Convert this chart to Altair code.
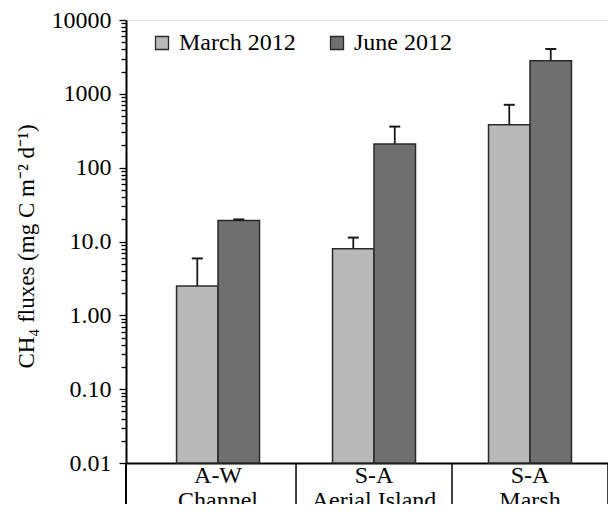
import altair as alt
import pandas as pd

sites = ["A-W\nChannel", "S-A\nAerial Island", "S-A\nMarsh"]
months = ["March 2012", "June 2012"]
march_vals = [2.5, 8.0, 380]
march_err = [5.9, 11.3, 710]
june_vals = [19.3, 210, 2800]
june_err = [19.9, 360, 4050]
y_ticks = [0.01, 0.1, 1, 10, 100, 1000, 10000]
y_labels = ["0.01", "0.10", "1.00", "10.0", "100", "1000", "10000"]
minor_mult = [2, 3, 4, 5, 6, 7, 8, 9]
colors = ["#b9b9b9", "#6f6f6f"]

rows = []
for i, s in enumerate(sites):
    rows.append({"site": s, "month": months[0], "value": march_vals[i], "err": march_err[i], "base": 0.01})
    rows.append({"site": s, "month": months[1], "value": june_vals[i], "err": june_err[i], "base": 0.01})
df = pd.DataFrame(rows)

all_ticks = list(y_ticks)
for d in y_ticks[:-1]:
    for m in minor_mult:
        all_ticks.append(round(d * m, 6))
all_ticks = sorted(all_ticks)
site_df = pd.DataFrame({"site": sites})

W, H = 482, 443
FONT = "Liberation Serif"
label_map = "{" + ",".join(f"'{t}':'{l}'" for t, l in zip([str(x) for x in y_ticks], y_labels)) + "}"
major_test = "indexof([" + ",".join(str(t) for t in y_ticks) + "], datum.value) >= 0"

xscale = alt.Scale(domain=sites, paddingInner=0, paddingOuter=0.045, align=1)
yscale = alt.Scale(type="log", domain=[0.01, 10000], nice=False)
xoff = alt.XOffset("month:N", sort=months, scale=alt.Scale(domain=months, paddingInner=0, paddingOuter=0.88))

bars = alt.Chart(df).mark_bar(stroke="#2a2a2a", strokeWidth=1.5).encode(
    x=alt.X("site:N", sort=sites, scale=xscale,
            axis=alt.Axis(labels=False, ticks=False, title=None, domainColor="black", domainWidth=2)),
    xOffset=xoff,
    y=alt.Y("value:Q", scale=yscale,
            axis=alt.Axis(values=all_ticks, labelExpr=f"{label_map}[datum.value] || ''",
                          labelOverlap=False,
                          title="CH₄ fluxes (mg C m⁻² d⁻¹)", titleFont=FONT, titleFontSize=23,
                          titleFontWeight="normal", titleColor="black", titlePadding=13,
                          titleY=226,
                          labelFont=FONT, labelFontSize=24, labelColor="black", labelPadding=8,
                          tickSize={"condition": {"test": major_test, "value": 7}, "value": 5},
                          tickColor="black", tickWidth=1.3, domainColor="black",
                          domainWidth=2, grid=False, labelFlush=False)),
    y2=alt.Y2("base:Q"),
    color=alt.Color("month:N", sort=months, scale=alt.Scale(domain=months, range=colors),
                    legend=alt.Legend(orient="none", legendX=24, legendY=11, direction="horizontal",
                                      title=None, symbolType="square", symbolSize=169,
                                      symbolStrokeColor="#2a2a2a", symbolStrokeWidth=1.3,
                                      labelFont=FONT, labelFontSize=24, labelColor="black",
                                      labelOffset=5, columnPadding=29, symbolOpacity=1)),
)

errs = alt.Chart(df).mark_rule(color="#1a1a1a", strokeWidth=1.8).encode(
    x=alt.X("site:N", sort=sites, scale=xscale),
    xOffset=xoff,
    y=alt.Y("value:Q", scale=yscale),
    y2="err:Q",
)
caps = alt.Chart(df).mark_tick(color="#1a1a1a", thickness=2, size=11, opacity=1).encode(
    x=alt.X("site:N", sort=sites, scale=xscale),
    xOffset=xoff,
    y=alt.Y("err:Q", scale=yscale),
)

dividers = alt.Chart(site_df).mark_rule(color="black", strokeWidth=1.5).encode(
    x=alt.X("site:N", sort=sites, scale=xscale, bandPosition=1),
    y=alt.value(H),
    y2=alt.value(H + 70),
)
left_div = alt.Chart(site_df.head(1)).mark_rule(color="black", strokeWidth=2).encode(
    x=alt.value(0),
    y=alt.value(H),
    y2=alt.value(H + 70),
)

cat_labels = alt.Chart(site_df).mark_text(font=FONT, fontSize=24, color="black", baseline="top",
                                          lineBreak="\n", lineHeight=25).encode(
    x=alt.X("site:N", sort=sites, scale=xscale, bandPosition=0.5),
    y=alt.value(H + 1),
    text="site:N",
)

chart = alt.layer(bars, errs, caps, dividers, left_div, cat_labels).properties(
    width=W, height=H,
    autosize=alt.AutoSizeParams(type="none"),
    padding={"left": 118, "top": 12, "right": 0, "bottom": 41},
    background="white",
).configure_view(stroke=None).configure(font=FONT)

chart.save("out.html", embed_options={"renderer": "svg", "actions": False})
